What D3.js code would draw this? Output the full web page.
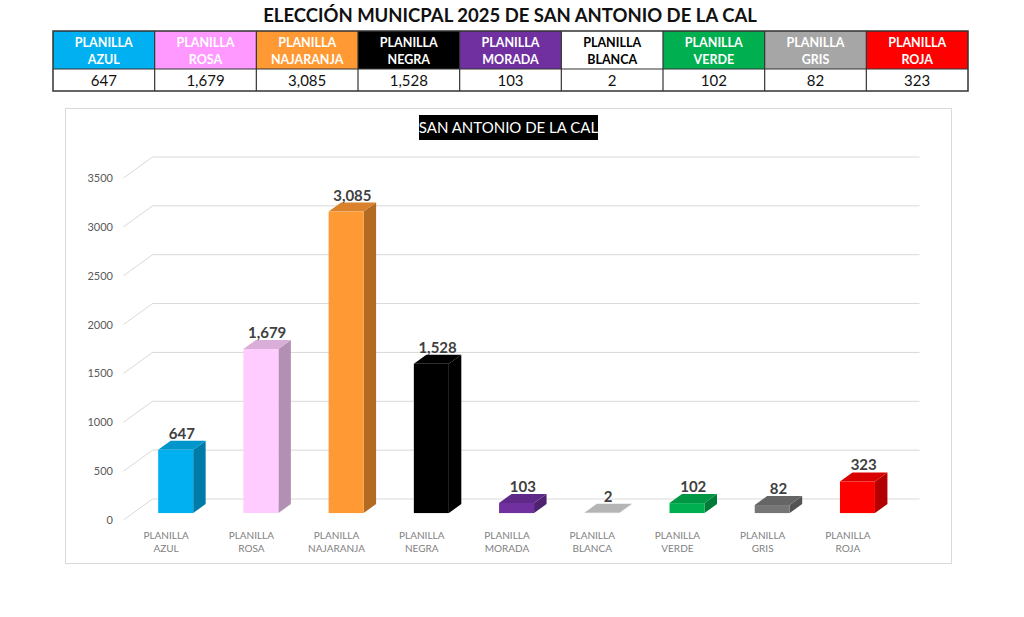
<!DOCTYPE html>
<html>
<head>
<meta charset="utf-8">
<script src="https://cdn.jsdelivr.net/npm/d3@7"></script>
<style>
  body { margin: 0; background: #fff; }
  svg { display: block; font-family: Lato, "Open Sans", sans-serif; }
</style>
</head>
<body>
<svg id="plot" width="1024" height="617"></svg>
<script>
// Data
const categories = ["AZUL", "ROSA", "NAJARANJA", "NEGRA", "MORADA", "BLANCA", "VERDE", "GRIS", "ROJA"];
const values = [647, 1679, 3085, 1528, 103, 2, 102, 82, 323];
const headerColors = ["#00B0F0", "#FF99FF", "#FF9933", "#000000", "#7030A0", "#FFFFFF", "#00B050", "#A6A6A6", "#FF0000"];
const headerText = ["#fff", "#fff", "#fff", "#fff", "#fff", "#000", "#fff", "#fff", "#fff"];
const barColors = ["#00B0F0", "#FFCCFF", "#FF9933", "#000000", "#7030A0", "#D4D4D4", "#00B050", "#767676", "#FF0000"];
const yTicks = [0, 500, 1000, 1500, 2000, 2500, 3000, 3500];

const svg = d3.select("#plot");
const fmt = d3.format(",");

// Title
svg.append("text")
    .attr("x", 510)
    .attr("y", 22)
    .attr("text-anchor", "middle")
    .style("font-weight", "bold")
    .style("font-size", "18.5px")
    .attr("fill", "#111")
    .text("ELECCIÓN MUNICPAL 2025 DE SAN ANTONIO DE LA CAL");

// Table
const col = d3.scaleBand().domain(categories).range([53, 968]);
const table = svg.append("g");

table.selectAll(".hdr")
    .data(categories)
    .enter().append("rect")
    .attr("x", d => col(d))
    .attr("y", 31)
    .attr("width", col.bandwidth())
    .attr("height", 38)
    .attr("fill", (d, i) => headerColors[i]);

categories.forEach((c, i) => {
    const cx = col(c) + col.bandwidth() / 2;
    const t = table.append("text")
        .attr("text-anchor", "middle")
        .attr("fill", headerText[i])
        .style("font-weight", "bold")
        .style("font-size", "12.5px");
    t.append("tspan").attr("x", cx).attr("y", 47).text("PLANILLA");
    t.append("tspan").attr("x", cx).attr("y", 64).text(c);

    table.append("text")
        .attr("x", cx)
        .attr("y", 86)
        .attr("text-anchor", "middle")
        .attr("fill", "#111")
        .style("font-size", "15px")
        .text(fmt(values[i]));
});

// table lines
table.append("rect")
    .attr("x", 53).attr("y", 31).attr("width", 915).attr("height", 60)
    .attr("fill", "none").attr("stroke", "#333").attr("stroke-width", 1.5);
table.append("line")
    .attr("x1", 53).attr("x2", 968).attr("y1", 69).attr("y2", 69)
    .attr("stroke", "#333").attr("stroke-width", 1.2);
table.selectAll(".vl")
    .data(categories.slice(1))
    .enter().append("line")
    .attr("x1", d => col(d)).attr("x2", d => col(d))
    .attr("y1", 31).attr("y2", 91)
    .attr("stroke", "#333").attr("stroke-width", 1.2);

// Chart frame
svg.append("rect")
    .attr("x", 65.5).attr("y", 108.5).attr("width", 886).attr("height", 455)
    .attr("fill", "#fff").attr("stroke", "#D9D9D9");

// Chart title
const ct = svg.append("g");
ct.append("rect")
    .attr("x", 419).attr("y", 115).attr("width", 179).attr("height", 25)
    .attr("fill", "#000");
ct.append("text")
    .attr("x", 508.5).attr("y", 133)
    .attr("text-anchor", "middle")
    .attr("fill", "#fff")
    .style("font-size", "15px")
    .text("SAN ANTONIO DE LA CAL");

// 3D scales
const depthX = 29, depthY = -21;
const x = d3.scaleBand().domain(categories).range([123.5, 890.5]);
const y = d3.scaleLinear().domain([0, 3500]).range([520, 178]);

// grid: diagonal on side wall + back wall lines
const grid = svg.append("g");
yTicks.forEach(v => {
    grid.append("line")
        .attr("x1", x.range()[0]).attr("y1", y(v))
        .attr("x2", x.range()[0] + depthX).attr("y2", y(v) + depthY)
        .attr("stroke", "#D9D9D9").attr("stroke-width", 1);
    grid.append("line")
        .attr("x1", x.range()[0] + depthX).attr("y1", y(v) + depthY)
        .attr("x2", x.range()[1] + depthX).attr("y2", y(v) + depthY)
        .attr("stroke", "#D9D9D9").attr("stroke-width", 1);
    grid.append("text")
        .attr("x", 113).attr("y", y(v) + 4)
        .attr("text-anchor", "end")
        .attr("fill", "#595959")
        .style("font-size", "11px")
        .text(v);
});

// bars
const dFront = 0.33, dBack = 0.76, barW = 35;
const bars = svg.append("g");
categories.forEach((c, i) => {
    const col0 = d3.color(barColors[i]);
    const side = col0.darker(1.0).formatHex();
    const top = col0.darker(0.45).formatHex();
    const cx = x(c) + x.bandwidth() / 2;
    const fx0 = cx - barW / 2 + depthX * dFront;
    const fx1 = fx0 + barW;
    const fy0 = y(0) + depthY * dFront;
    const fyT = y(values[i]) + depthY * dFront;
    const bdx = depthX * (dBack - dFront), bdy = depthY * (dBack - dFront);

    // side
    bars.append("path")
        .attr("d", `M${fx1},${fy0} L${fx1 + bdx},${fy0 + bdy} L${fx1 + bdx},${fyT + bdy} L${fx1},${fyT} Z`)
        .attr("fill", side);
    // top
    bars.append("path")
        .attr("d", `M${fx0},${fyT} L${fx1},${fyT} L${fx1 + bdx},${fyT + bdy} L${fx0 + bdx},${fyT + bdy} Z`)
        .attr("fill", top);
    // front
    bars.append("rect")
        .attr("x", fx0).attr("y", fyT)
        .attr("width", barW).attr("height", Math.max(0, fy0 - fyT))
        .attr("fill", barColors[i]);

    // value label
    bars.append("text")
        .attr("x", (fx0 + fx1 + bdx) / 2)
        .attr("y", fyT + bdy - 2)
        .attr("text-anchor", "middle")
        .attr("fill", "#404040")
        .style("font-weight", "bold")
        .style("font-size", "15px")
        .text(fmt(values[i]));

    // category label
    const lt = bars.append("text")
        .attr("text-anchor", "middle")
        .attr("fill", "#7F7F7F")
        .style("font-size", "10px");
    lt.append("tspan").attr("x", cx).attr("y", 539).text("PLANILLA");
    lt.append("tspan").attr("x", cx).attr("y", 552).text(c);
});
</script>
</body>
</html>
